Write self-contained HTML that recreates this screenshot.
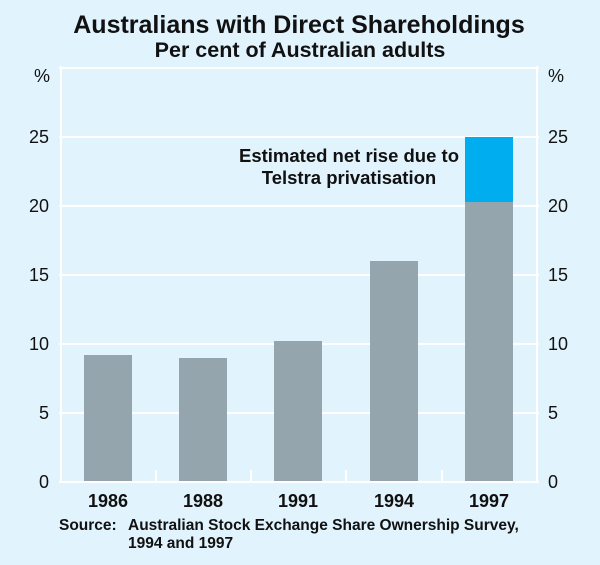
<!DOCTYPE html>
<html><head><style>
body{margin:0;background:#e1f3fd;}
</style></head><body>
<svg width="600" height="560" xmlns="http://www.w3.org/2000/svg" font-family="Liberation Sans, Arial, sans-serif">
<rect width="600" height="560" fill="#e1f3fd"/>
<text x="299" y="33" text-anchor="middle" font-size="25" font-weight="bold" fill="#111">Australians with Direct Shareholdings</text>
<text x="300" y="57" text-anchor="middle" font-size="21.5" font-weight="bold" fill="#111">Per cent of Australian adults</text>
<g stroke="#fff" stroke-width="2">
<line x1="59" y1="68" x2="539" y2="68"/>
<line x1="59" y1="137" x2="539" y2="137"/>
<line x1="59" y1="206" x2="539" y2="206"/>
<line x1="59" y1="275" x2="539" y2="275"/>
<line x1="59" y1="344" x2="539" y2="344"/>
<line x1="59" y1="413" x2="539" y2="413"/>
<line x1="61" y1="66" x2="61" y2="483"/>
<line x1="537" y1="66" x2="537" y2="483"/>
</g>
<g fill="#95a5ad">
<rect x="84" y="355" width="48" height="127"/>
<rect x="179" y="358" width="48" height="124"/>
<rect x="274" y="341" width="48" height="141"/>
<rect x="370" y="261" width="48" height="221"/>
<rect x="465" y="202" width="48" height="280"/>
</g>
<rect x="465" y="137" width="48" height="65" fill="#00adef"/>
<g stroke="#fff" stroke-width="2">
<line x1="59" y1="482" x2="539" y2="482"/>
<line x1="156" y1="482" x2="156" y2="470"/>
<line x1="251" y1="482" x2="251" y2="470"/>
<line x1="346" y1="482" x2="346" y2="470"/>
<line x1="442" y1="482" x2="442" y2="470"/>
</g>
<g font-size="18" fill="#111" text-anchor="end">
<text x="50" y="82">%</text>
<text x="49" y="143">25</text>
<text x="49" y="212">20</text>
<text x="49" y="281">15</text>
<text x="49" y="350">10</text>
<text x="49" y="419">5</text>
<text x="49" y="488">0</text>
</g>
<g font-size="18" fill="#111" text-anchor="start">
<text x="548" y="82">%</text>
<text x="548" y="143">25</text>
<text x="548" y="212">20</text>
<text x="548" y="281">15</text>
<text x="548" y="350">10</text>
<text x="548" y="419">5</text>
<text x="548" y="488">0</text>
</g>
<g font-size="18" fill="#111" text-anchor="middle" font-weight="bold">
<text x="108" y="507">1986</text>
<text x="203" y="507">1988</text>
<text x="298" y="507">1991</text>
<text x="394" y="507">1994</text>
<text x="489" y="507">1997</text>
</g>
<g font-size="18.5" fill="#111" text-anchor="middle" font-weight="bold">
<text x="349" y="162">Estimated net rise due to</text>
<text x="349" y="184">Telstra privatisation</text>
</g>
<g font-size="15.5" fill="#111" font-weight="bold">
<text x="59" y="530">Source:</text>
<text x="128" y="530">Australian Stock Exchange Share Ownership Survey,</text>
<text x="128" y="548">1994 and 1997</text>
</g>
</svg>
</body></html>
